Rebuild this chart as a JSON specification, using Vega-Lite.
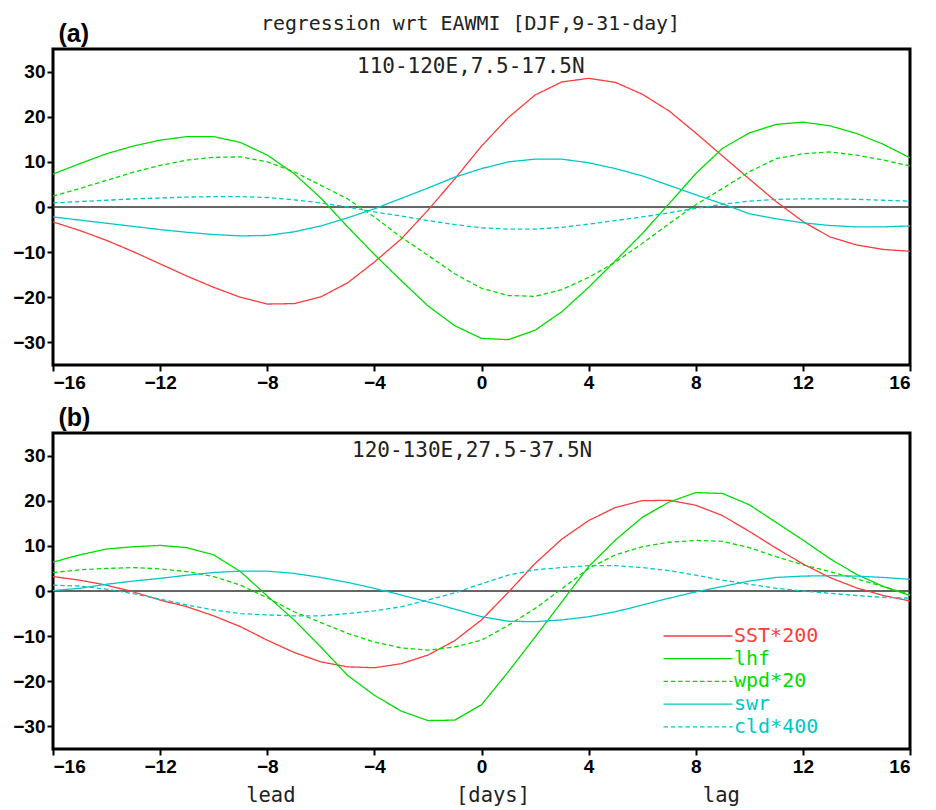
{
  "$schema": "https://vega.github.io/schema/vega-lite/v6.json",
  "background": "white",
  "padding": {"left": 11, "top": 12, "right": 5, "bottom": 5},
  "bounds": "flush",
  "spacing": 68,
  "config": {
    "view": {"stroke": "black", "strokeWidth": 3},
    "axis": {"grid": false, "domain": false, "ticks": true, "tickColor": "black", "tickWidth": 2, "tickSize": 6, "labelFont": "Liberation Sans", "labelFontWeight": "bold", "labelFontSize": 19, "labelColor": "black", "labelPadding": 2}
  },
  "datasets": {
    "a": [
      {"d":-16,"s":"SST*200","v":-3.3},{"d":-15,"s":"SST*200","v":-5.2},{"d":-14,"s":"SST*200","v":-7.4},{"d":-13,"s":"SST*200","v":-9.9},{"d":-12,"s":"SST*200","v":-12.6},{"d":-11,"s":"SST*200","v":-15.3},{"d":-10,"s":"SST*200","v":-17.8},{"d":-9,"s":"SST*200","v":-20.0},{"d":-8,"s":"SST*200","v":-21.5},{"d":-7,"s":"SST*200","v":-21.4},{"d":-6,"s":"SST*200","v":-19.9},{"d":-5,"s":"SST*200","v":-16.8},{"d":-4,"s":"SST*200","v":-12.2},{"d":-3,"s":"SST*200","v":-7.1},{"d":-2,"s":"SST*200","v":-0.7},{"d":-1,"s":"SST*200","v":6.2},{"d":0,"s":"SST*200","v":13.5},{"d":1,"s":"SST*200","v":19.8},{"d":2,"s":"SST*200","v":24.8},{"d":3,"s":"SST*200","v":27.7},{"d":4,"s":"SST*200","v":28.5},{"d":5,"s":"SST*200","v":27.6},{"d":6,"s":"SST*200","v":25.0},{"d":7,"s":"SST*200","v":21.3},{"d":8,"s":"SST*200","v":16.4},{"d":9,"s":"SST*200","v":11.3},{"d":10,"s":"SST*200","v":6.2},{"d":11,"s":"SST*200","v":1.2},{"d":12,"s":"SST*200","v":-3.2},{"d":13,"s":"SST*200","v":-6.6},{"d":14,"s":"SST*200","v":-8.4},{"d":15,"s":"SST*200","v":-9.4},{"d":16,"s":"SST*200","v":-9.8},
      {"d":-16,"s":"lhf","v":7.3},{"d":-15,"s":"lhf","v":9.6},{"d":-14,"s":"lhf","v":11.8},{"d":-13,"s":"lhf","v":13.5},{"d":-12,"s":"lhf","v":14.8},{"d":-11,"s":"lhf","v":15.6},{"d":-10,"s":"lhf","v":15.6},{"d":-9,"s":"lhf","v":14.3},{"d":-8,"s":"lhf","v":11.5},{"d":-7,"s":"lhf","v":7.4},{"d":-6,"s":"lhf","v":2.0},{"d":-5,"s":"lhf","v":-4.4},{"d":-4,"s":"lhf","v":-10.5},{"d":-3,"s":"lhf","v":-16.3},{"d":-2,"s":"lhf","v":-21.9},{"d":-1,"s":"lhf","v":-26.3},{"d":0,"s":"lhf","v":-29.1},{"d":1,"s":"lhf","v":-29.4},{"d":2,"s":"lhf","v":-27.3},{"d":3,"s":"lhf","v":-23.2},{"d":4,"s":"lhf","v":-17.8},{"d":5,"s":"lhf","v":-11.9},{"d":6,"s":"lhf","v":-5.9},{"d":7,"s":"lhf","v":0.7},{"d":8,"s":"lhf","v":7.4},{"d":9,"s":"lhf","v":13.0},{"d":10,"s":"lhf","v":16.4},{"d":11,"s":"lhf","v":18.3},{"d":12,"s":"lhf","v":18.8},{"d":13,"s":"lhf","v":18.0},{"d":14,"s":"lhf","v":16.3},{"d":15,"s":"lhf","v":13.9},{"d":16,"s":"lhf","v":10.9},
      {"d":-16,"s":"wpd*20","v":2.4},{"d":-15,"s":"wpd*20","v":4.1},{"d":-14,"s":"wpd*20","v":5.9},{"d":-13,"s":"wpd*20","v":7.7},{"d":-12,"s":"wpd*20","v":9.2},{"d":-11,"s":"wpd*20","v":10.4},{"d":-10,"s":"wpd*20","v":11.0},{"d":-9,"s":"wpd*20","v":11.1},{"d":-8,"s":"wpd*20","v":10.0},{"d":-7,"s":"wpd*20","v":7.8},{"d":-6,"s":"wpd*20","v":4.8},{"d":-5,"s":"wpd*20","v":1.8},{"d":-4,"s":"wpd*20","v":-2.2},{"d":-3,"s":"wpd*20","v":-6.7},{"d":-2,"s":"wpd*20","v":-10.7},{"d":-1,"s":"wpd*20","v":-14.8},{"d":0,"s":"wpd*20","v":-18.0},{"d":1,"s":"wpd*20","v":-19.6},{"d":2,"s":"wpd*20","v":-19.8},{"d":3,"s":"wpd*20","v":-18.3},{"d":4,"s":"wpd*20","v":-15.6},{"d":5,"s":"wpd*20","v":-12.2},{"d":6,"s":"wpd*20","v":-8.1},{"d":7,"s":"wpd*20","v":-3.7},{"d":8,"s":"wpd*20","v":0.5},{"d":9,"s":"wpd*20","v":4.1},{"d":10,"s":"wpd*20","v":7.8},{"d":11,"s":"wpd*20","v":10.7},{"d":12,"s":"wpd*20","v":11.8},{"d":13,"s":"wpd*20","v":12.2},{"d":14,"s":"wpd*20","v":11.5},{"d":15,"s":"wpd*20","v":10.4},{"d":16,"s":"wpd*20","v":9.1},
      {"d":-16,"s":"swr","v":-2.2},{"d":-15,"s":"swr","v":-2.9},{"d":-14,"s":"swr","v":-3.6},{"d":-13,"s":"swr","v":-4.3},{"d":-12,"s":"swr","v":-5.0},{"d":-11,"s":"swr","v":-5.6},{"d":-10,"s":"swr","v":-6.1},{"d":-9,"s":"swr","v":-6.4},{"d":-8,"s":"swr","v":-6.3},{"d":-7,"s":"swr","v":-5.5},{"d":-6,"s":"swr","v":-4.2},{"d":-5,"s":"swr","v":-2.4},{"d":-4,"s":"swr","v":-0.4},{"d":-3,"s":"swr","v":1.9},{"d":-2,"s":"swr","v":4.2},{"d":-1,"s":"swr","v":6.6},{"d":0,"s":"swr","v":8.5},{"d":1,"s":"swr","v":10.0},{"d":2,"s":"swr","v":10.6},{"d":3,"s":"swr","v":10.6},{"d":4,"s":"swr","v":9.8},{"d":5,"s":"swr","v":8.5},{"d":6,"s":"swr","v":6.9},{"d":7,"s":"swr","v":4.8},{"d":8,"s":"swr","v":2.7},{"d":9,"s":"swr","v":0.7},{"d":10,"s":"swr","v":-1.5},{"d":11,"s":"swr","v":-2.6},{"d":12,"s":"swr","v":-3.5},{"d":13,"s":"swr","v":-4.1},{"d":14,"s":"swr","v":-4.4},{"d":15,"s":"swr","v":-4.4},{"d":16,"s":"swr","v":-4.2},
      {"d":-16,"s":"cld*400","v":0.9},{"d":-15,"s":"cld*400","v":1.2},{"d":-14,"s":"cld*400","v":1.5},{"d":-13,"s":"cld*400","v":1.8},{"d":-12,"s":"cld*400","v":2.0},{"d":-11,"s":"cld*400","v":2.2},{"d":-10,"s":"cld*400","v":2.3},{"d":-9,"s":"cld*400","v":2.3},{"d":-8,"s":"cld*400","v":2.1},{"d":-7,"s":"cld*400","v":1.6},{"d":-6,"s":"cld*400","v":0.9},{"d":-5,"s":"cld*400","v":0.0},{"d":-4,"s":"cld*400","v":-1.1},{"d":-3,"s":"cld*400","v":-2.0},{"d":-2,"s":"cld*400","v":-3.0},{"d":-1,"s":"cld*400","v":-3.9},{"d":0,"s":"cld*400","v":-4.6},{"d":1,"s":"cld*400","v":-4.9},{"d":2,"s":"cld*400","v":-4.9},{"d":3,"s":"cld*400","v":-4.5},{"d":4,"s":"cld*400","v":-3.8},{"d":5,"s":"cld*400","v":-3.0},{"d":6,"s":"cld*400","v":-2.2},{"d":7,"s":"cld*400","v":-1.3},{"d":8,"s":"cld*400","v":-0.3},{"d":9,"s":"cld*400","v":0.6},{"d":10,"s":"cld*400","v":1.3},{"d":11,"s":"cld*400","v":1.7},{"d":12,"s":"cld*400","v":1.8},{"d":13,"s":"cld*400","v":1.8},{"d":14,"s":"cld*400","v":1.7},{"d":15,"s":"cld*400","v":1.5},{"d":16,"s":"cld*400","v":1.3}
    ],
    "b": [
      {"d":-16,"s":"SST*200","v":3.2},{"d":-15,"s":"SST*200","v":2.4},{"d":-14,"s":"SST*200","v":1.3},{"d":-13,"s":"SST*200","v":-0.2},{"d":-12,"s":"SST*200","v":-2.0},{"d":-11,"s":"SST*200","v":-3.5},{"d":-10,"s":"SST*200","v":-5.5},{"d":-9,"s":"SST*200","v":-7.9},{"d":-8,"s":"SST*200","v":-10.9},{"d":-7,"s":"SST*200","v":-13.6},{"d":-6,"s":"SST*200","v":-15.7},{"d":-5,"s":"SST*200","v":-16.8},{"d":-4,"s":"SST*200","v":-17.0},{"d":-3,"s":"SST*200","v":-16.1},{"d":-2,"s":"SST*200","v":-14.2},{"d":-1,"s":"SST*200","v":-11.0},{"d":0,"s":"SST*200","v":-6.4},{"d":1,"s":"SST*200","v":-0.3},{"d":2,"s":"SST*200","v":6.1},{"d":3,"s":"SST*200","v":11.5},{"d":4,"s":"SST*200","v":15.6},{"d":5,"s":"SST*200","v":18.5},{"d":6,"s":"SST*200","v":20.0},{"d":7,"s":"SST*200","v":20.1},{"d":8,"s":"SST*200","v":19.0},{"d":9,"s":"SST*200","v":16.7},{"d":10,"s":"SST*200","v":13.2},{"d":11,"s":"SST*200","v":9.5},{"d":12,"s":"SST*200","v":6.0},{"d":13,"s":"SST*200","v":3.0},{"d":14,"s":"SST*200","v":0.7},{"d":15,"s":"SST*200","v":-1.0},{"d":16,"s":"SST*200","v":-2.2},
      {"d":-16,"s":"lhf","v":6.4},{"d":-15,"s":"lhf","v":8.0},{"d":-14,"s":"lhf","v":9.3},{"d":-13,"s":"lhf","v":9.8},{"d":-12,"s":"lhf","v":10.1},{"d":-11,"s":"lhf","v":9.6},{"d":-10,"s":"lhf","v":8.0},{"d":-9,"s":"lhf","v":4.3},{"d":-8,"s":"lhf","v":-1.1},{"d":-7,"s":"lhf","v":-6.4},{"d":-6,"s":"lhf","v":-12.4},{"d":-5,"s":"lhf","v":-18.7},{"d":-4,"s":"lhf","v":-23.1},{"d":-3,"s":"lhf","v":-26.6},{"d":-2,"s":"lhf","v":-28.7},{"d":-1,"s":"lhf","v":-28.6},{"d":0,"s":"lhf","v":-25.2},{"d":1,"s":"lhf","v":-17.9},{"d":2,"s":"lhf","v":-10.2},{"d":3,"s":"lhf","v":-2.4},{"d":4,"s":"lhf","v":5.4},{"d":5,"s":"lhf","v":11.3},{"d":6,"s":"lhf","v":16.3},{"d":7,"s":"lhf","v":19.7},{"d":8,"s":"lhf","v":21.8},{"d":9,"s":"lhf","v":21.6},{"d":10,"s":"lhf","v":19.1},{"d":11,"s":"lhf","v":15.2},{"d":12,"s":"lhf","v":11.3},{"d":13,"s":"lhf","v":7.2},{"d":14,"s":"lhf","v":3.7},{"d":15,"s":"lhf","v":1.0},{"d":16,"s":"lhf","v":-1.0},
      {"d":-16,"s":"wpd*20","v":4.1},{"d":-15,"s":"wpd*20","v":4.7},{"d":-14,"s":"wpd*20","v":5.0},{"d":-13,"s":"wpd*20","v":5.2},{"d":-12,"s":"wpd*20","v":4.9},{"d":-11,"s":"wpd*20","v":4.3},{"d":-10,"s":"wpd*20","v":3.2},{"d":-9,"s":"wpd*20","v":1.3},{"d":-8,"s":"wpd*20","v":-1.5},{"d":-7,"s":"wpd*20","v":-4.6},{"d":-6,"s":"wpd*20","v":-7.0},{"d":-5,"s":"wpd*20","v":-9.4},{"d":-4,"s":"wpd*20","v":-11.3},{"d":-3,"s":"wpd*20","v":-12.6},{"d":-2,"s":"wpd*20","v":-13.1},{"d":-1,"s":"wpd*20","v":-12.4},{"d":0,"s":"wpd*20","v":-10.9},{"d":1,"s":"wpd*20","v":-7.6},{"d":2,"s":"wpd*20","v":-3.9},{"d":3,"s":"wpd*20","v":0.5},{"d":4,"s":"wpd*20","v":5.0},{"d":5,"s":"wpd*20","v":8.0},{"d":6,"s":"wpd*20","v":9.8},{"d":7,"s":"wpd*20","v":10.8},{"d":8,"s":"wpd*20","v":11.2},{"d":9,"s":"wpd*20","v":11.0},{"d":10,"s":"wpd*20","v":9.6},{"d":11,"s":"wpd*20","v":7.6},{"d":12,"s":"wpd*20","v":5.8},{"d":13,"s":"wpd*20","v":4.3},{"d":14,"s":"wpd*20","v":2.7},{"d":15,"s":"wpd*20","v":1.0},{"d":16,"s":"wpd*20","v":-0.8},
      {"d":-16,"s":"swr","v":0.1},{"d":-15,"s":"swr","v":0.6},{"d":-14,"s":"swr","v":1.5},{"d":-13,"s":"swr","v":2.2},{"d":-12,"s":"swr","v":2.8},{"d":-11,"s":"swr","v":3.5},{"d":-10,"s":"swr","v":4.1},{"d":-9,"s":"swr","v":4.4},{"d":-8,"s":"swr","v":4.4},{"d":-7,"s":"swr","v":3.9},{"d":-6,"s":"swr","v":3.0},{"d":-5,"s":"swr","v":1.9},{"d":-4,"s":"swr","v":0.6},{"d":-3,"s":"swr","v":-0.9},{"d":-2,"s":"swr","v":-2.4},{"d":-1,"s":"swr","v":-4.0},{"d":0,"s":"swr","v":-5.7},{"d":1,"s":"swr","v":-6.7},{"d":2,"s":"swr","v":-6.8},{"d":3,"s":"swr","v":-6.4},{"d":4,"s":"swr","v":-5.7},{"d":5,"s":"swr","v":-4.6},{"d":6,"s":"swr","v":-3.1},{"d":7,"s":"swr","v":-1.6},{"d":8,"s":"swr","v":-0.2},{"d":9,"s":"swr","v":1.0},{"d":10,"s":"swr","v":2.2},{"d":11,"s":"swr","v":3.0},{"d":12,"s":"swr","v":3.3},{"d":13,"s":"swr","v":3.4},{"d":14,"s":"swr","v":3.3},{"d":15,"s":"swr","v":3.0},{"d":16,"s":"swr","v":2.6},
      {"d":-16,"s":"cld*400","v":1.3},{"d":-15,"s":"cld*400","v":1.1},{"d":-14,"s":"cld*400","v":0.4},{"d":-13,"s":"cld*400","v":-0.6},{"d":-12,"s":"cld*400","v":-1.8},{"d":-11,"s":"cld*400","v":-3.1},{"d":-10,"s":"cld*400","v":-4.2},{"d":-9,"s":"cld*400","v":-5.0},{"d":-8,"s":"cld*400","v":-5.3},{"d":-7,"s":"cld*400","v":-5.5},{"d":-6,"s":"cld*400","v":-5.5},{"d":-5,"s":"cld*400","v":-5.0},{"d":-4,"s":"cld*400","v":-4.4},{"d":-3,"s":"cld*400","v":-3.5},{"d":-2,"s":"cld*400","v":-2.0},{"d":-1,"s":"cld*400","v":-0.4},{"d":0,"s":"cld*400","v":1.6},{"d":1,"s":"cld*400","v":3.5},{"d":2,"s":"cld*400","v":4.7},{"d":3,"s":"cld*400","v":5.2},{"d":4,"s":"cld*400","v":5.6},{"d":5,"s":"cld*400","v":5.6},{"d":6,"s":"cld*400","v":5.2},{"d":7,"s":"cld*400","v":4.5},{"d":8,"s":"cld*400","v":3.5},{"d":9,"s":"cld*400","v":2.4},{"d":10,"s":"cld*400","v":1.5},{"d":11,"s":"cld*400","v":0.6},{"d":12,"s":"cld*400","v":0.0},{"d":13,"s":"cld*400","v":-0.5},{"d":14,"s":"cld*400","v":-1.0},{"d":15,"s":"cld*400","v":-1.4},{"d":16,"s":"cld*400","v":-1.6}
    ]
  },
  "resolve": {"legend": {"color": "independent", "strokeDash": "independent"}},
  "vconcat": [
    {
      "width": 857,
      "height": 316,
      "title": {"text": "regression wrt EAWMI [DJF,9-31-day]", "font": "DejaVu Sans Mono", "fontSize": 19.9, "fontWeight": "normal", "color": "#222", "anchor": "middle", "frame": "group", "dx": -11, "offset": -29, "baseline": "alphabetic"},
      "layer": [
        {"data": {"values": [{}]}, "mark": {"type": "rule", "color": "#333", "strokeWidth": 1.3}, "encoding": {"y": {"datum": 0}}},
        {
          "data": {"name": "a"},
          "mark": {"type": "line", "strokeWidth": 1.3},
          "encoding": {
            "x": {"field": "d", "type": "quantitative", "scale": {"domain": [-16, 16], "nice": false, "zero": false}, "axis": {"values": [-16, -12, -8, -4, 0, 4, 8, 12, 16], "title": null}},
            "y": {"field": "v", "type": "quantitative", "scale": {"domain": [-35, 35], "nice": false}, "axis": {"values": [-30, -20, -10, 0, 10, 20, 30], "title": "(a)", "titleAngle": 0, "titleX": 5, "titleY": -8, "titleAlign": "left", "titleBaseline": "alphabetic", "titleFont": "Liberation Sans", "titleFontSize": 25, "titleFontWeight": "bold", "titleColor": "black"}},
            "color": {"field": "s", "type": "nominal", "scale": {"domain": ["SST*200", "lhf", "wpd*20", "swr", "cld*400"], "range": ["#fa3c3c", "#00dc00", "#00dc00", "#00c8c8", "#00c8c8"]}, "legend": null},
            "strokeDash": {"field": "s", "type": "nominal", "scale": {"domain": ["SST*200", "lhf", "wpd*20", "swr", "cld*400"], "range": [[1, 0], [1, 0], [4.5, 2.8], [1, 0], [4.5, 2.8]]}, "legend": null}
          }
        },
        {"data": {"values": [{}]}, "mark": {"type": "text", "font": "DejaVu Sans Mono", "fontSize": 21, "align": "center", "baseline": "alphabetic", "color": "#222"}, "encoding": {"x": {"datum": -0.4}, "y": {"datum": 29.7}, "text": {"value": "110-120E,7.5-17.5N"}}}
      ]
    },
    {
      "width": 857,
      "height": 316,
      "layer": [
        {"data": {"values": [{}]}, "mark": {"type": "rule", "color": "#333", "strokeWidth": 1.3}, "encoding": {"y": {"datum": 0}}},
        {
          "data": {"name": "b"},
          "mark": {"type": "line", "strokeWidth": 1.3},
          "encoding": {
            "x": {"field": "d", "type": "quantitative", "scale": {"domain": [-16, 16], "nice": false, "zero": false}, "axis": {"values": [-16, -12, -8, -4, 0, 4, 8, 12, 16], "title": "lead\u00a0\u00a0\u00a0\u00a0\u00a0\u00a0\u00a0\u00a0\u00a0\u00a0\u00a0\u00a0\u00a0[days]\u00a0\u00a0\u00a0\u00a0\u00a0\u00a0\u00a0\u00a0\u00a0\u00a0\u00a0\u00a0\u00a0\u00a0lag", "titleFont": "DejaVu Sans Mono", "titleFontSize": 20.5, "titleFontWeight": "normal", "titleColor": "#222", "titleX": 439.5, "titleY": 52, "titleAlign": "center", "titleBaseline": "alphabetic"}},
            "y": {"field": "v", "type": "quantitative", "scale": {"domain": [-35, 35], "nice": false}, "axis": {"values": [-30, -20, -10, 0, 10, 20, 30], "title": "(b)", "titleAngle": 0, "titleX": 5, "titleY": -8, "titleAlign": "left", "titleBaseline": "alphabetic", "titleFont": "Liberation Sans", "titleFontSize": 25, "titleFontWeight": "bold", "titleColor": "black"}},
            "color": {"field": "s", "type": "nominal", "scale": {"domain": ["SST*200", "lhf", "wpd*20", "swr", "cld*400"], "range": ["#fa3c3c", "#00dc00", "#00dc00", "#00c8c8", "#00c8c8"]}, "legend": {"orient": "none", "legendX": 635, "legendY": 193, "title": null, "symbolType": "M-5,0H5", "symbolSize": 190, "symbolStrokeWidth": 1.3, "labelFont": "DejaVu Sans Mono", "labelFontSize": 20, "labelOffset": 26, "rowPadding": 2.7, "labelLimit": 300, "encode": {"labels": {"update": {"fill": {"scale": "color", "field": "value"}}}}}},
            "strokeDash": {"field": "s", "type": "nominal", "scale": {"domain": ["SST*200", "lhf", "wpd*20", "swr", "cld*400"], "range": [[1, 0], [1, 0], [4.5, 2.8], [1, 0], [4.5, 2.8]]}, "legend": {"orient": "none", "legendX": 635, "legendY": 193, "title": null, "symbolType": "M-5,0H5", "symbolSize": 190, "symbolStrokeWidth": 1.3, "labelFont": "DejaVu Sans Mono", "labelFontSize": 20, "labelOffset": 26, "rowPadding": 2.7, "labelLimit": 300, "encode": {"labels": {"update": {"fill": {"scale": "color", "field": "value"}}}}}}
          }
        },
        {"data": {"values": [{}]}, "mark": {"type": "text", "font": "DejaVu Sans Mono", "fontSize": 21, "align": "center", "baseline": "alphabetic", "color": "#222"}, "encoding": {"x": {"datum": -0.35}, "y": {"datum": 29.7}, "text": {"value": "120-130E,27.5-37.5N"}}}
      ]
    }
  ]
}
